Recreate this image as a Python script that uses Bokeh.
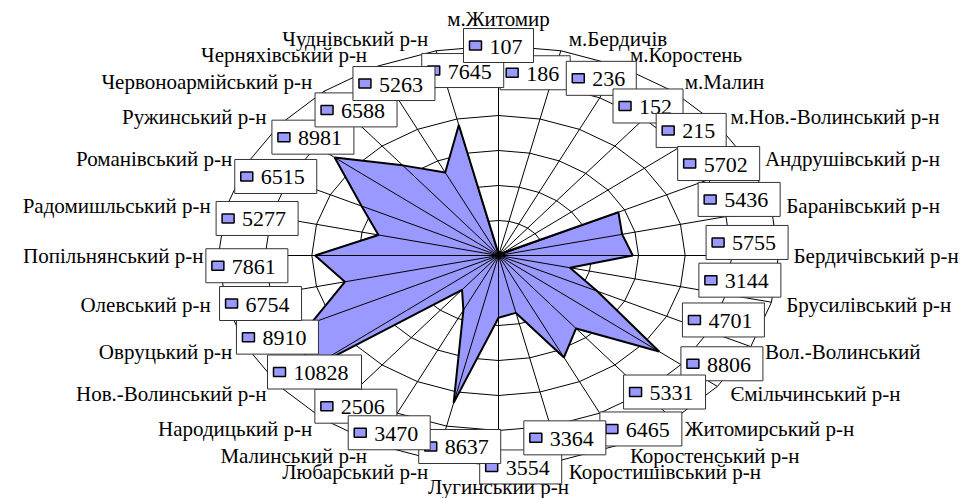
import math
from bokeh.plotting import figure
from bokeh.models import Range1d
from bokeh.core.properties import value
from bokeh.embed import file_html
from bokeh.resources import INLINE

categories = [
    "м.Житомир", "м.Бердичів", "м.Коростень", "м.Малин", "м.Нов.-Волинський р-н",
    "Андрушівський р-н", "Баранівський р-н", "Бердичівський р-н", "Брусилівський р-н",
    "Вол.-Волинський", "Ємільчинський р-н", "Житомирський р-н", "Коростенський р-н",
    "Коростишівський р-н", "Лугинський р-н", "Любарський р-н", "Малинський р-н",
    "Народицький р-н", "Нов.-Волинський р-н", "Овруцький р-н", "Олевський р-н",
    "Попільнянський р-н", "Радомишльський р-н", "Романівський р-н", "Ружинський р-н",
    "Червоноармійський р-н", "Черняхівський р-н", "Чуднівський р-н",
]
values = [
    107, 186, 236, 152, 215,
    5702, 5436, 5755, 3144,
    4701, 8806, 5331, 6465,
    3364, 3554, 8637, 3470,
    2506, 10828, 8910, 6754,
    7861, 5277, 6515, 8981,
    6588, 5263, 7645,
]
ring_ticks = [2000, 4000, 6000, 8000, 10000, 12000]

# ---- layout (page pixels; data units are mapped 1:1 onto pixels) ----
W, H = 971, 498
CX, CY, RX, RY = 498, 255, 280, 210
R_MAX = ring_ticks[-1]
FILL = "#9999FF"
FONT = value("Liberation Serif")

# where each value box sits: fraction of the outer ring and angular nudge (deg)
box_radius = [1.00, 0.88, 0.92, 0.89, 0.91, 0.90, 0.90, 0.89, 0.87, 0.86,
              0.95, 0.88, 0.97, 0.90, 1.01, 0.92, 0.93, 0.88, 0.86, 0.88,
              0.88, 0.90, 0.88, 0.88, 0.87, 0.86, 0.90, 0.89]
box_shift = [0.0, -4.3, -2.2, -1.7, -2.3, -3.4, -4.4, -4.0, -5.1, -4.8,
             -5.7, -3.8, -5.9, -2.4, -4.5, -4.2, -0.9, -3.2, -1.6, -0.5,
             -2.2, -3.1, -1.3, -0.4, 1.8, 2.3, 1.2, 4.6]
box_order = [14] + list(range(1, 14)) + [15, 17, 16] + list(range(18, 26)) + [27, 26, 0]

N = len(categories)
angles = [2 * math.pi * i / N for i in range(N)]


def pos(v, a):
    return CX + RX * v / R_MAX * math.sin(a), CY - RY * v / R_MAX * math.cos(a)


p = figure(width=W, height=H, output_backend="svg", toolbar_location=None,
           x_range=Range1d(0, W), y_range=Range1d(H, 0),
           min_border=0, outline_line_color=None, background_fill_color="white")
p.axis.visible = False
p.grid.visible = False

# rings (behind the filled series)
ring_xs, ring_ys = [], []
for t in ring_ticks:
    pts = [pos(t, a) for a in angles + [angles[0]]]
    ring_xs.append([q[0] for q in pts])
    ring_ys.append([q[1] for q in pts])
p.multi_line(ring_xs, ring_ys, line_color="black", line_width=1)

# filled series
poly = [pos(v, a) for v, a in zip(values, angles)]
p.patch([q[0] for q in poly], [q[1] for q in poly], fill_color=FILL,
        line_color=None)

# spokes
sp_xs, sp_ys = [], []
for a in angles:
    ex, ey = pos(R_MAX, a)
    sp_xs.append([CX, ex])
    sp_ys.append([CY, ey])
p.multi_line(sp_xs, sp_ys, line_color="black", line_width=1)

# series outline
p.line([q[0] for q in poly] + [poly[0][0]], [q[1] for q in poly] + [poly[0][1]],
       line_color="black", line_width=2)

# category labels
groups = {"left": ([], [], []), "right": ([], [], []), "center": ([], [], [])}
for cat, a in zip(categories, angles):
    ex, ey = pos(R_MAX, a)
    s, c = math.sin(a), math.cos(a)
    if abs(s) < 1e-6:
        g = "center"
        x, y = ex, ey - 27 * c
        y = min(y, H - 12)
    else:
        g = "left" if s > 0 else "right"
        x = ex + math.copysign(6 + 9 * abs(s), s)
        y = ey - 12 * c
    groups[g][0].append(x)
    groups[g][1].append(y)
    groups[g][2].append(cat)
for g, (xs, ys, ts) in groups.items():
    p.text(xs, ys, text=ts, text_align=g, text_baseline="middle",
           text_font=FONT, text_font_size="21px", text_color="black")

# value boxes (data labels with legend key)
for i in box_order:
    a = angles[i] + math.radians(box_shift[i])
    bx, by = pos(box_radius[i] * R_MAX, a)
    txt = str(values[i])
    w = 34 + 12 * len(txt)
    left = bx - w / 2
    p.rect([bx], [by], width=w, height=34, fill_color="white",
           line_color="#333333", line_width=1)
    p.rect([left + 12], [by], width=12, height=9, fill_color=FILL,
           line_color="black", line_width=1.5)
    p.text([left + 26], [by + 1], text=[txt], text_align="left",
           text_baseline="middle", text_font=FONT, text_font_size="22px",
           text_color="black")

open("out.html", "w").write(file_html(p, INLINE))
